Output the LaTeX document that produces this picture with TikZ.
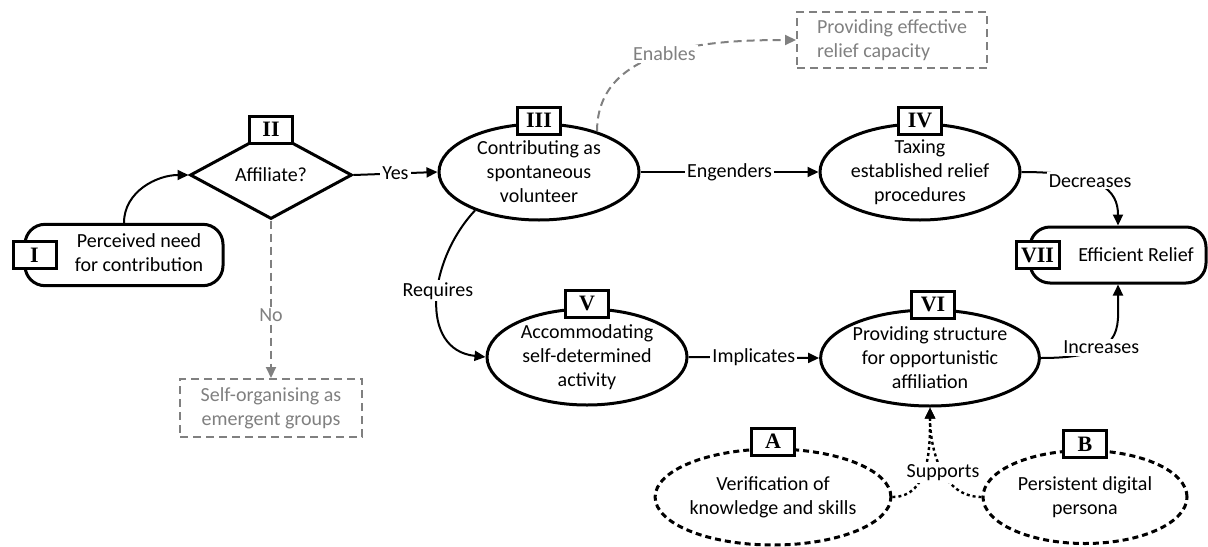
\documentclass[tikz,border=0pt]{standalone}
\usepackage{fontspec}
\setmainfont{Carlito}
\newfontfamily\tagfont{Liberation Serif}
\usetikzlibrary{shapes.geometric,arrows.meta,positioning,calc}
\usepackage{xcolor}

\begin{document}
\begin{tikzpicture}[x=0.5pt,y=-0.5pt]

	\tikzstyle{stdellipse}=[draw, ellipse, line width=1.5pt, align=center, inner sep=0pt, minimum width=100pt, minimum height=48pt];
	\tikzstyle{stdterm}=[draw, rectangle, rounded corners=10pt, line width=1.5pt, align=center, minimum height=28pt];
	\tikzstyle{stdtag}=[draw, rectangle, line width=1.5pt, fill=white, font=\tagfont\fontsize{11}{13}\selectfont\bfseries, minimum width=21.5pt, minimum height=13.5pt, inner sep=1pt];
	\tikzstyle{stdgray}=[draw=gray, text=gray, rectangle, line width=1pt, dash pattern=on 4pt off 2.5pt];
	\tikzstyle{stdoption}=[stdellipse, dash pattern=on 3pt off 2pt];
	\tikzstyle{stdlink}=[->, line width=1pt];
	\tikzstyle{stdgraylink}=[->, gray, line width=1pt, dash pattern=on 4pt off 2.5pt];
	\tikzstyle{stdsupport}=[->, line width=1.2pt, dash pattern=on 1.5pt off 1.5pt];
	\tikzstyle{stdlabel}=[fill=white, inner sep=1pt];

    \useasboundingbox (0,0) rectangle (1208,546);
    \begin{scope}[>={Triangle[length=5.5pt,width=5pt]}]

    	% main flow
    	\node (need) at (124,255) [stdterm, minimum width=99pt]{\hspace{15pt}\begin{tabular}{@{}c@{}}Perceived need\\for contribution\end{tabular}};
    	\node (affiliate) at (271,175) [draw, diamond, aspect=1.84, line width=1.5pt, minimum width=81pt, minimum height=44pt, inner sep=0pt]{Affiliate?};
    	\node (volunteer) at (539,172) [stdellipse]{Contributing as\\spontaneous\\volunteer};
    	\node (taxing) at (920,172) [stdellipse]{Taxing\\established relief\\procedures};
    	\node (relief) at (1118,255) [stdterm, minimum width=88pt]{\hspace{18pt}Efficient Relief};
    	\node (accommodate) at (587,357) [stdellipse]{Accommodating\\self-determined\\activity};
    	\node (structure) at (930,358) [stdellipse, minimum width=98pt]{Providing structure\\for opportunistic\\affiliation};

    	% supporting options
    	\node (verify) at (773,497) [stdoption]{Verification of\\knowledge and skills};
    	\node (persona) at (1085,497) [stdoption, minimum width=102pt, minimum height=46.5pt]{Persistent digital\\persona};

    	% alternatives
    	\node (capacity) at (892,40) [stdgray, align=left, minimum width=95pt, minimum height=28pt]{Providing effective\\relief capacity};
    	\node (emergent) at (271,408) [stdgray, align=center, minimum width=91pt, minimum height=29pt]{Self-organising as\\emergent groups};

    	% connectors
    	\draw[stdlink] (need.north) to[out=90,in=180] (affiliate.west);
    	\draw[stdlink] (affiliate.east) -- node[stdlabel]{Yes} (volunteer.west);
    	\draw[stdlink] (volunteer.east) -- node[stdlabel]{Engenders} (taxing.west);
    	\draw[stdlink] (taxing.east) .. controls +(80,0) and +(0,-35) .. node[stdlabel, pos=0.4]{Decreases} (relief.north);
    	\draw[stdlink] (structure.east) .. controls +(85,0) and +(0,45) .. node[stdlabel, pos=0.36]{Increases} (relief.south);
    	\draw[stdlink] (accommodate.east) -- node[stdlabel]{Implicates} (structure.west);
    	\draw[stdlink] (volunteer.211) .. controls +(-47,50) and +(-67,-7) .. node[stdlabel, pos=0.45]{Requires} (accommodate.west);
    	\draw[stdgraylink] (volunteer.35) to[out=90,in=180] node[stdlabel, text=gray]{Enables} (capacity.west);
    	\draw[stdgraylink] (affiliate.south) -- node[stdlabel, text=gray, pos=0.6]{No} (emergent.north);
    	\draw[stdsupport] (verify.east) to[out=0,in=-90] (structure.south);
    	\draw[stdsupport] (persona.west) to[out=180,in=-90] node[stdlabel, pos=0.45]{Supports} (structure.south);

    	% tags
    	\node (tagI) at (need.west) [stdtag, xshift=5.5pt]{I};
    	\node (tagII) at (affiliate.north) [stdtag]{II};
    	\node (tagIII) at (volunteer.north) [stdtag, yshift=1pt]{III};
    	\node (tagIV) at (taxing.north) [stdtag, yshift=1pt]{IV};
    	\node (tagV) at (accommodate.north) [stdtag, yshift=2pt]{V};
    	\node (tagVI) at (structure.north) [stdtag, xshift=1.5pt, yshift=2pt]{VI};
    	\node (tagVII) at (relief.west) [stdtag, xshift=4.5pt]{VII};
    	\node (tagA) at (verify.north) [stdtag, yshift=3pt]{A};
    	\node (tagB) at (persona.north) [stdtag, yshift=2.5pt]{B};

    \end{scope}
    \end{tikzpicture}
\end{document}
